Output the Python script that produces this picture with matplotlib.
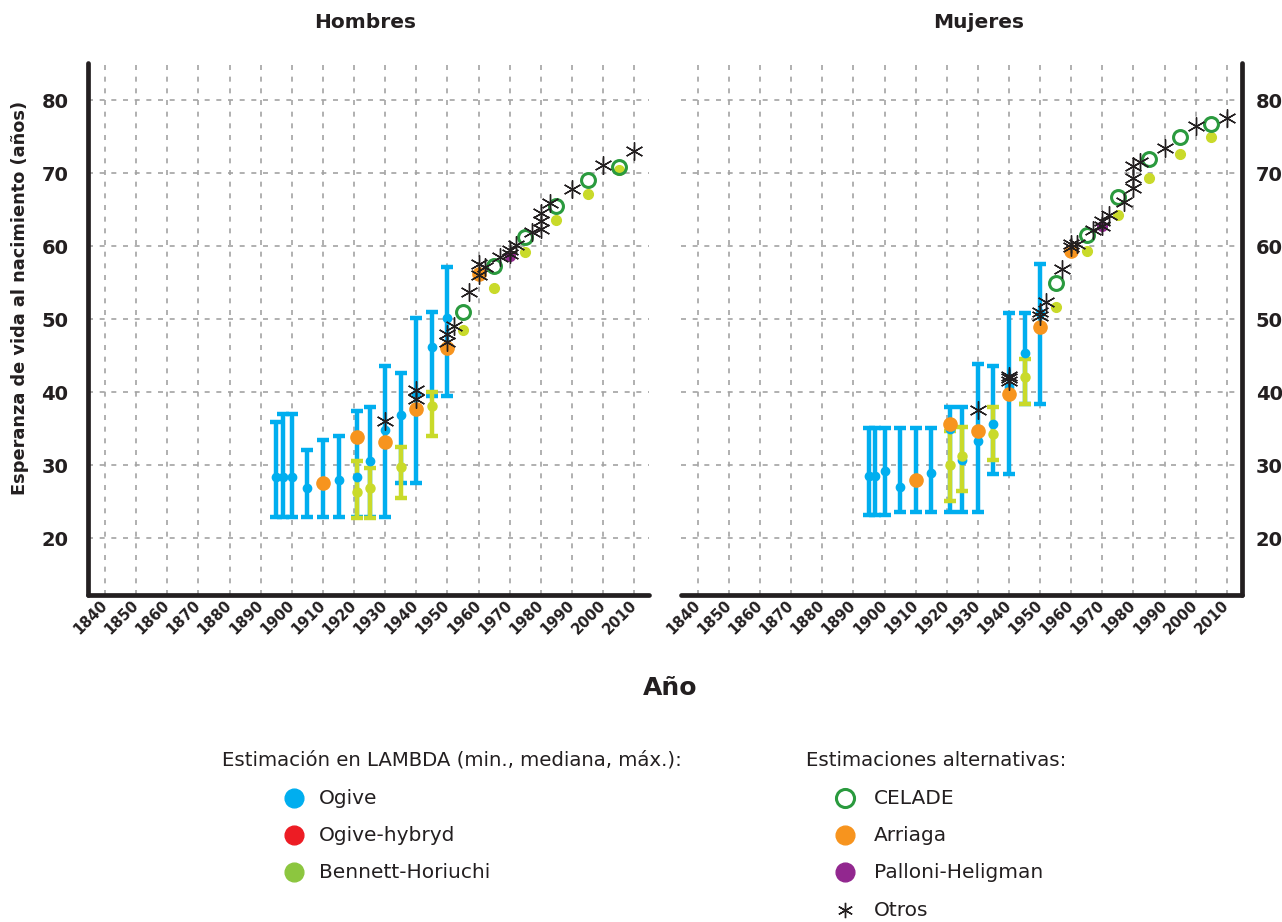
import numpy as np
import matplotlib.pyplot as plt
from matplotlib.lines import Line2D

plt.rcParams['font.family'] = ['DejaVu Sans']

# ---- colours
BLUE = '#00aeef'
RED = '#ed1c24'
LIME = '#c9da2a'
LIME_LEG = '#8cc63f'
GREEN = '#2a9a3e'
ORANGE = '#f7941e'
PURPLE = '#92278f'
DARK = '#231f20'

x_ticks = list(range(1840, 2011, 10))
y_ticks = [20, 30, 40, 50, 60, 70, 80]

# ---- Hombres
h_ogive_year = [1895, 1897, 1900, 1905, 1910, 1915, 1921, 1925, 1930, 1935, 1940, 1945, 1950]
h_ogive_min = [22.9, 22.9, 22.9, 22.9, 22.9, 22.9, 22.9, 22.9, 22.9, 27.6, 27.6, 39.4, 39.4]
h_ogive_med = [28.3, 28.3, 28.3, 26.8, 27.5, 28.0, 28.3, 30.5, 34.8, 36.8, 39.8, 46.2, 50.2]
h_ogive_max = [35.9, 37.0, 37.0, 32.0, 33.5, 34.0, 37.4, 37.9, 43.6, 42.6, 50.1, 51.0, 57.2]

h_bh_year = [1921, 1925, 1935, 1945]
h_bh_min = [22.7, 22.7, 25.5, 34.0]
h_bh_med = [26.3, 26.8, 29.7, 38.1]
h_bh_max = [30.6, 29.6, 32.5, 40.0]
h_bh_pt_year = [1955, 1965, 1975, 1985, 1995, 2005]
h_bh_pt = [48.5, 54.2, 59.2, 63.6, 67.1, 70.4]

h_arriaga_year = [1910, 1921, 1930, 1940, 1950, 1960]
h_arriaga = [27.5, 33.8, 33.1, 37.7, 46.1, 56.2]
h_celade_year = [1955, 1965, 1975, 1985, 1995, 2005]
h_celade = [51.0, 57.3, 61.3, 65.5, 69.0, 70.8]
h_palloni_year = [1970]
h_palloni = [58.7]
h_otros_year = [1930, 1940, 1940, 1950, 1950, 1952, 1957, 1960, 1960, 1962, 1967,
                1970, 1970, 1972, 1977, 1980, 1980, 1980, 1983, 1990, 2000, 2010]
h_otros = [36.1, 40.3, 39.1, 48.0, 46.9, 49.0, 53.7, 57.5, 56.0, 57.1, 58.5,
           59.5, 58.9, 60.1, 62.0, 62.4, 63.4, 64.5, 65.9, 67.8, 71.1, 73.0]

# ---- Mujeres
m_ogive_year = [1895, 1897, 1900, 1905, 1910, 1915, 1921, 1925, 1930, 1935, 1940, 1945, 1950]
m_ogive_min = [23.15, 23.15, 23.15, 23.6, 23.6, 23.6, 23.6, 23.6, 23.6, 28.8, 28.8, 38.35, 38.35]
m_ogive_med = [28.5, 28.5, 29.2, 27.0, 28.0, 28.85, 35.0, 30.7, 33.3, 35.6, 40.7, 45.4, 50.8]
m_ogive_max = [35.1, 35.1, 35.1, 35.1, 35.1, 35.1, 38.0, 38.0, 43.9, 43.6, 50.9, 50.9, 57.5]

m_bh_year = [1921, 1925, 1935, 1945]
m_bh_min = [25.1, 26.4, 30.7, 38.35]
m_bh_med = [30.0, 31.2, 34.3, 42.0]
m_bh_max = [34.7, 35.25, 37.9, 44.5]
m_bh_pt_year = [1955, 1965, 1975, 1985, 1995, 2005]
m_bh_pt = [51.6, 59.3, 64.2, 69.4, 72.6, 74.9]

m_arriaga_year = [1910, 1921, 1930, 1940, 1950, 1960]
m_arriaga = [27.95, 35.6, 34.7, 39.8, 48.9, 59.4]
m_celade_year = [1955, 1965, 1975, 1985, 1995, 2005]
m_celade = [54.9, 61.5, 66.75, 71.9, 74.9, 76.8]
m_palloni_year = [1970]
m_palloni = [62.7]
m_otros_year = [1930, 1940, 1940, 1940, 1950, 1950, 1952, 1957, 1960, 1960, 1962, 1967,
                1970, 1970, 1972, 1977, 1980, 1980, 1980, 1982, 1990, 2000, 2010]
m_otros = [37.5, 41.9, 41.5, 42.2, 51.0, 50.4, 52.4, 56.9, 60.3, 59.9, 60.3, 62.2,
           63.4, 62.7, 64.2, 66.1, 67.9, 69.3, 71.0, 71.5, 73.4, 76.45, 77.6]

STAR = (6, 2, 0)


def range_bars(ax, yr, lo, med, hi, color, ms):
    med = np.array(med)
    err = [med - np.array(lo), np.array(hi) - med]
    ax.errorbar(yr, med, yerr=err, fmt='o', color=color, ms=ms, elinewidth=3.2,
                capsize=4.5, capthick=3.2, zorder=3)


def panel(ax, og, bh, bh_pt, arr, cel, pal, otr, side):
    range_bars(ax, *og, BLUE, 6)
    range_bars(ax, *bh, LIME, 6.5)
    ax.plot(*bh_pt, 'o', color=LIME, ms=7, zorder=4)
    ax.plot(*cel, 'o', mfc='none', mec=GREEN, mew=2.2, ms=10, zorder=5)
    ax.plot(*arr, 'o', color=ORANGE, ms=9.5, zorder=5)
    ax.plot(*pal, 'o', color=PURPLE, ms=7, zorder=5)
    ax.plot(*otr, ls='none', marker=STAR, color=DARK, mec=DARK, ms=13, mew=1.0, zorder=6)

    ax.set_xlim(1834.5, 2014.8)
    ax.set_ylim(12.2, 85.1)
    ax.set_xticks(x_ticks)
    ax.set_yticks(y_ticks)
    ax.grid(True, color='#a3a3a3', linestyle=(0, (3, 4)), linewidth=1.2, zorder=0)
    ax.set_axisbelow(True)
    for s in ax.spines.values():
        s.set_visible(False)
    for s in ['bottom', side]:
        ax.spines[s].set_visible(True)
        ax.spines[s].set_linewidth(3.4)
        ax.spines[s].set_color(DARK)
        ax.spines[s].set_capstyle('round')
    ax.tick_params(length=0, pad=4)
    ax.set_xticklabels([str(t) for t in x_ticks], rotation=45, ha='right',
                       va='center', rotation_mode='anchor', fontsize=10.5,
                       fontweight='bold', color=DARK)
    ax.set_yticklabels([str(t) for t in y_ticks], fontsize=14, fontweight='bold',
                       color=DARK)
    if side == 'right':
        ax.yaxis.tick_right()
        ax.tick_params(axis='y', length=0, pad=10)
    else:
        ax.tick_params(axis='y', length=0, pad=14)
    ax.tick_params(axis='x', pad=6)


fig = plt.figure(figsize=(12.82, 9.22), dpi=100)
ax1 = fig.add_axes([0.0686, 0.3547, 0.4378, 0.5770])
ax2 = fig.add_axes([0.5310, 0.3547, 0.4376, 0.5770])

panel(ax1, (h_ogive_year, h_ogive_min, h_ogive_med, h_ogive_max),
      (h_bh_year, h_bh_min, h_bh_med, h_bh_max), (h_bh_pt_year, h_bh_pt),
      (h_arriaga_year, h_arriaga), (h_celade_year, h_celade),
      (h_palloni_year, h_palloni), (h_otros_year, h_otros), 'left')
panel(ax2, (m_ogive_year, m_ogive_min, m_ogive_med, m_ogive_max),
      (m_bh_year, m_bh_min, m_bh_med, m_bh_max), (m_bh_pt_year, m_bh_pt),
      (m_arriaga_year, m_arriaga), (m_celade_year, m_celade),
      (m_palloni_year, m_palloni), (m_otros_year, m_otros), 'right')

W, H = 1282.0, 922.0


def fx(px):
    return px / W


def fy(py):
    return 1 - py / H


fig.text(fx(365), fy(22), 'Hombres', ha='center', va='center', fontsize=14.5,
         fontweight='bold', color=DARK)
fig.text(fx(979), fy(22), 'Mujeres', ha='center', va='center', fontsize=14.5,
         fontweight='bold', color=DARK)
fig.text(fx(20), fy(298), 'Esperanza de vida al nacimiento (años)', rotation=90,
         ha='center', va='center', fontsize=12.8, fontweight='bold', color=DARK)
fig.text(fx(670), fy(688), 'Año', ha='center', va='center', fontsize=18,
         fontweight='bold', color=DARK)

# ---- legend
leg_left = ['Ogive', 'Ogive-hybryd', 'Bennett-Horiuchi']
leg_left_col = [BLUE, RED, LIME_LEG]
leg_right = ['CELADE', 'Arriaga', 'Palloni-Heligman', 'Otros']
row_y = [798, 835, 872, 910]

fig.text(fx(222), fy(760), 'Estimación en LAMBDA (min., mediana, máx.):', ha='left',
         va='center', fontsize=14.2, color=DARK)
fig.text(fx(806), fy(760), 'Estimaciones alternativas:', ha='left', va='center',
         fontsize=14.2, color=DARK)
for lab, col, yy in zip(leg_left, leg_left_col, row_y):
    fig.add_artist(Line2D([fx(294)], [fy(yy)], marker='o', color=col, ms=13.5,
                          transform=fig.transFigure))
    fig.text(fx(319), fy(yy), lab, ha='left', va='center', fontsize=14.5, color=DARK)

right_styles = [dict(marker='o', mfc='none', mec=GREEN, mew=2.2, ms=13),
                dict(marker='o', color=ORANGE, ms=13.5),
                dict(marker='o', color=PURPLE, ms=13.5),
                dict(marker=STAR, color=DARK, mec=DARK, mew=1.0, ms=11)]
for lab, st, yy in zip(leg_right, right_styles, row_y):
    fig.add_artist(Line2D([fx(845)], [fy(yy)], transform=fig.transFigure, **st))
    fig.text(fx(874), fy(yy), lab, ha='left', va='center', fontsize=14.5, color=DARK)

fig.savefig('out.png', dpi=100)
